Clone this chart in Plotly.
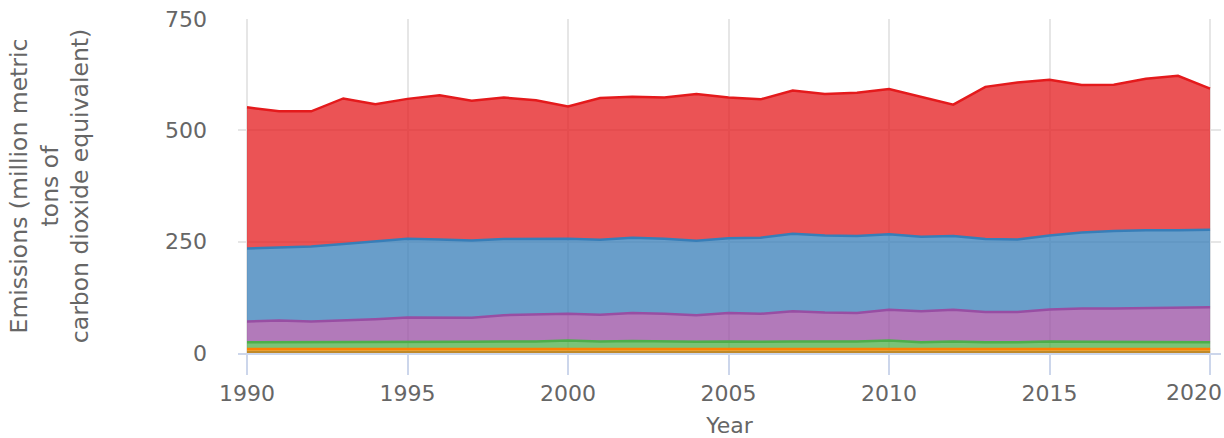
import plotly.graph_objects as go

years = list(range(1990, 2021))

# Per-sector emissions (million metric tons CO2e), bottom to top of the stack
brown_vals = [2] * 31
orange_vals = [7, 7, 7, 7, 7, 7, 7, 7, 7, 7, 7, 7, 7, 7, 7, 7, 7, 7, 7, 7, 7, 7.5, 8.5, 7, 7, 7, 7, 7, 7, 7, 7]
green_vals = [15, 15, 15, 15, 15, 16, 16, 16, 17, 17, 19, 17, 18, 17, 16, 17, 16, 17, 17, 17, 19, 14.5, 15.5, 15, 15, 17, 16, 16, 15, 15, 15]
purple_vals = [47, 49, 47, 49, 52, 55, 54, 54, 59, 60, 60, 60, 63, 62, 60, 64, 63, 68, 65, 64, 69, 70, 71, 68, 68, 72, 75, 75, 77, 78, 79]
blue_vals = [164, 163.5, 168.5, 172, 175, 177, 176, 174, 171, 171, 169, 168.5, 169, 169, 167, 168, 171, 174, 173, 173, 170, 167, 166, 164, 163, 166, 171, 174, 175, 174, 174]
red_vals = [317, 306.5, 303.5, 327, 308, 314, 324, 314, 318, 311, 297, 318.5, 317, 317, 330, 316, 311, 322, 318, 322, 326, 315, 295, 342, 353, 350, 331, 329, 340, 347, 317]

x_tick_vals = [1990, 1995, 2000, 2005, 2010, 2015, 2020]
x_tick_text = ["1990", "1995", "2000", "2005", "2010", "2015", ""]
# last label drawn on an overlay axis, shifted left so it stays inside the chart
x_last_tick = [2020]
x_last_text = ["2020"]
y_tick_vals = [0, 250, 500, 750]

series = [
    ("Other", brown_vals, "#c08a2a", "rgba(214,160,40,0.85)"),
    ("Agriculture", orange_vals, "#ff7f00", "rgba(240,160,30,0.8)"),
    ("Commercial", green_vals, "#4daf4a", "rgba(77,175,74,0.75)"),
    ("Residential", purple_vals, "#984ea3", "rgba(152,78,163,0.75)"),
    ("Industry", blue_vals, "#377eb8", "rgba(55,126,184,0.75)"),
    ("Transportation", red_vals, "#e41a1c", "rgba(228,26,28,0.75)"),
]

fig = go.Figure()
for name, vals, line_c, fill_c in series:
    fig.add_trace(go.Scatter(
        x=years, y=vals, name=name, mode="lines",
        stackgroup="one",
        line=dict(color=line_c, width=2.5),
        fillcolor=fill_c,
    ))
# empty helper trace so the overlay axis is rendered
fig.add_trace(go.Scatter(x=[], y=[], xaxis="x2", yaxis="y", showlegend=False, hoverinfo="skip"))

font_fam = "DejaVu Sans"
x_range = [1989.72, 2020.34]
fig.update_layout(
    width=1224, height=438,
    margin=dict(l=238, r=3, t=19, b=85, autoexpand=False),
    paper_bgcolor="white", plot_bgcolor="white",
    showlegend=False,
    font=dict(family=font_fam, size=22, color="#666666"),
    xaxis=dict(
        range=x_range,
        tickvals=x_tick_vals, ticktext=x_tick_text,
        showgrid=True, gridcolor="#e6e6e6", gridwidth=1.5,
        showline=True, linecolor="#ccd6eb", linewidth=2,
        ticks="outside", ticklen=20, tickcolor="#ccd6eb", tickwidth=2,
        zeroline=False, automargin=False,
        title=dict(text="Year", font=dict(size=22, color="#666666"), standoff=14),
        tickfont=dict(size=22, color="#666666"),
    ),
    xaxis2=dict(
        range=x_range, overlaying="x", side="bottom", anchor="y",
        tickvals=x_last_tick, ticktext=x_last_text,
        ticks="outside", ticklen=20, tickcolor="rgba(0,0,0,0)", tickwidth=2,
        ticklabelshift=-16, ticklabeloverflow="allow",
        showgrid=False, showline=False, zeroline=False, automargin=False,
        tickfont=dict(size=22, color="#666666"),
    ),
    yaxis=dict(
        range=[0, 750.5],
        tickvals=y_tick_vals,
        ticklabeloverflow="allow",
        showgrid=True, gridcolor="#e6e6e6", gridwidth=1.5,
        zeroline=False, showline=False, automargin=False,
        ticklabelstandoff=30,
        tickfont=dict(size=22, color="#666666"),
        title=dict(
            text="Emissions (million metric<br>tons of<br>carbon dioxide equivalent)",
            font=dict(size=23.5, color="#666666"), standoff=69,
        ),
    ),
)

fig.write_html("out.html", config={"displayModeBar": False},
               post_script="document.body.style.margin='0px';")
